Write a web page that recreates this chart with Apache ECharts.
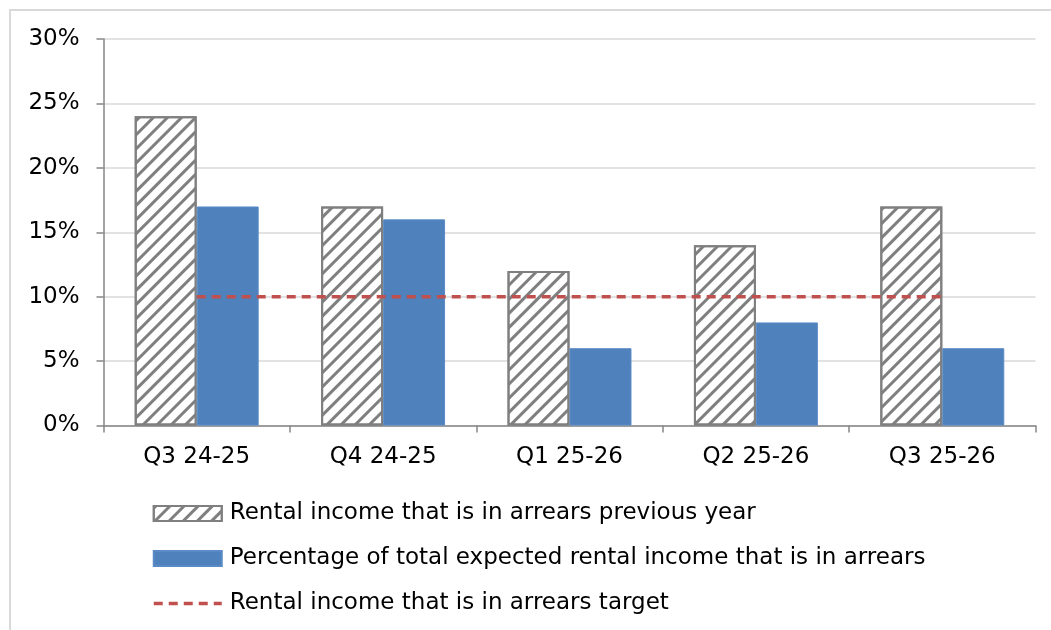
<!DOCTYPE html>
<html>
<head>
<meta charset="utf-8">
<script src="https://cdn.jsdelivr.net/npm/echarts@6/dist/echarts.min.js"></script>
<style>
html,body{margin:0;padding:0;background:#fff;}
#chart{width:1051px;height:630px;}
</style>
</head>
<body>
<div id="chart"></div>
<script>
var categories = ['Q3 24-25', 'Q4 24-25', 'Q1 25-26', 'Q2 25-26', 'Q3 25-26'];
var previousYear = [24, 17, 12, 14, 17];
var currentArrears = [17, 16, 6, 8, 6];
var target = [10, 10, 10, 10, 10];
var yTicks = [0, 5, 10, 15, 20, 25, 30];
var seriesNames = [
  'Rental income that is in arrears previous year',
  'Percentage of total expected rental income that is in arrears',
  'Rental income that is in arrears target'
];

var FONT = 'DejaVu Sans';
var RED = '#c0504d';
var chart = echarts.init(document.getElementById('chart'));
chart.setOption({
  animation: false,
  backgroundColor: '#fff',
  textStyle: { fontFamily: FONT },
  graphic: [{
    type: 'rect', silent: true, z: -1,
    shape: { x: 10, y: 10, width: 1200, height: 800 },
    style: { fill: 'none', stroke: '#d9d9d9', lineWidth: 2 }
  }],
  grid: { left: 103.5, right: 15.5, top: 39, bottom: 204.5, containLabel: false },
  legend: {
    orient: 'vertical',
    left: 152, top: 502,
    padding: 0,
    itemGap: 22,
    itemWidth: 68, itemHeight: 15,
    textStyle: { fontSize: 23, color: '#000', fontFamily: FONT, padding: [0, 0, 0, 3] },
    data: [
      { name: seriesNames[0], icon: 'rect' },
      { name: seriesNames[1], icon: 'rect' },
      { name: seriesNames[2], itemStyle: { opacity: 0 }, lineStyle: { color: RED, width: 3.5, type: [9, 6] } }
    ]
  },
  xAxis: {
    type: 'category',
    data: categories,
    axisLine: { lineStyle: { color: '#868686', width: 1.5 } },
    axisTick: { show: true, length: 7, interval: 0, lineStyle: { color: '#868686', width: 1.5 } },
    axisLabel: { fontSize: 23, color: '#000', margin: 20, interval: 0, fontFamily: FONT }
  },
  yAxis: {
    type: 'value',
    min: yTicks[0], max: yTicks[yTicks.length - 1], interval: yTicks[1] - yTicks[0],
    axisLine: { show: true, lineStyle: { color: '#868686', width: 1.5 } },
    axisTick: { show: true, length: 7, lineStyle: { color: '#868686', width: 1.5 } },
    axisLabel: { fontSize: 23, color: '#000', margin: 24, formatter: '{value}%', fontFamily: FONT },
    splitLine: { lineStyle: { color: '#d9d9d9', width: 1.5 } }
  },
  series: [
    {
      name: seriesNames[0],
      type: 'bar',
      data: previousYear,
      barGap: '0%',
      barCategoryGap: '33.5%',
      itemStyle: {
        color: '#ffffff',
        borderColor: '#7f7f7f',
        borderWidth: 2,
        decal: {
          symbol: 'rect',
          symbolSize: 1,
          dashArrayX: [1, 0],
          dashArrayY: [2.2, 6.1],
          rotation: -Math.PI / 4,
          color: '#7f7f7f'
        }
      }
    },
    {
      name: seriesNames[1],
      type: 'bar',
      data: currentArrears,
      itemStyle: { color: '#4f81bd', borderColor: '#5a8bc6', borderWidth: 1 }
    },
    {
      name: seriesNames[2],
      type: 'line',
      data: target,
      symbol: 'none',
      z: 5,
      itemStyle: { color: RED },
      lineStyle: { color: RED, width: 3.5, type: [9, 6] }
    }
  ]
});
</script>
</body>
</html>
